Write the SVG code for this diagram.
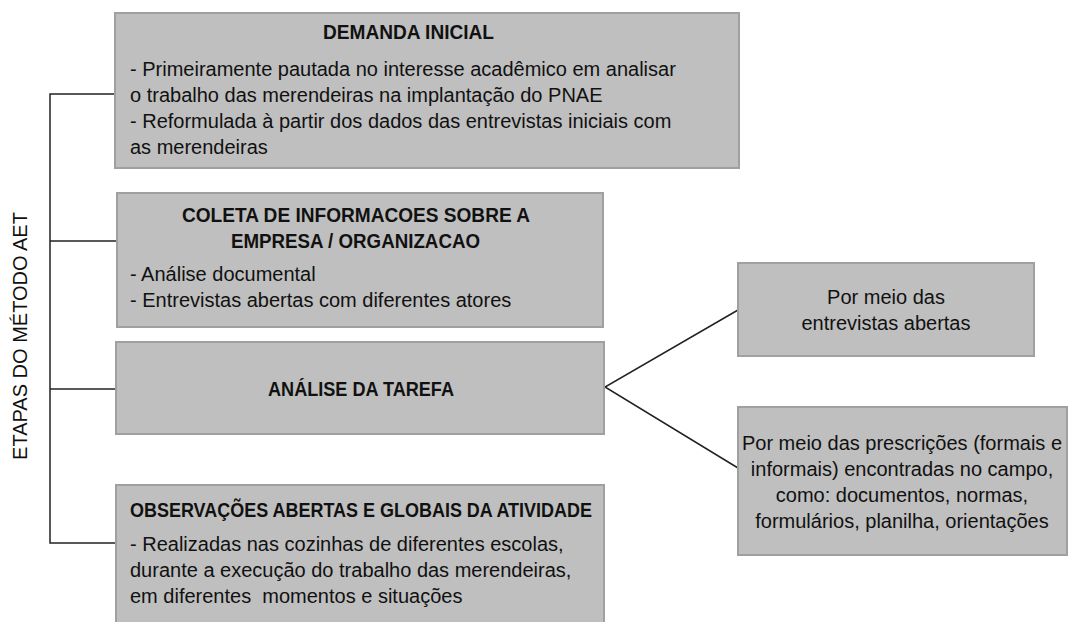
<svg xmlns="http://www.w3.org/2000/svg" width="1073" height="622" viewBox="0 0 1073 622">
<style>
.box{fill:#bfbfbf;stroke:#a0a0a0;stroke-width:2}
.t{font-family:"Liberation Sans",Arial,sans-serif;font-size:20px;fill:#111}
.h{font-family:"Liberation Sans",Arial,sans-serif;font-size:20px;font-weight:bold;fill:#111}
.c{text-anchor:middle}
.ln{fill:none;stroke:#222;stroke-width:1.5}
</style>
<rect width="1073" height="622" fill="#fff"/>
<g id="connectors">
<path class="ln" d="M115,94 H50 V543 H116"/>
<path class="ln" d="M50,241 H117"/>
<path class="ln" d="M50,389 H116"/>
<path class="ln" d="M738,310 L605,387 L738,468"/>
</g>
<text class="t c" transform="translate(27,336) rotate(-90)">ETAPAS DO MÉTODO AET</text>
<g id="demanda">
<rect class="box" x="115" y="13" width="624" height="155"/>
<text class="h" x="323" y="39" textLength="171" lengthAdjust="spacingAndGlyphs">DEMANDA INICIAL</text>
<text class="t" x="130" y="76">- Primeiramente pautada no interesse acadêmico em analisar</text>
<text class="t" x="130" y="102">o trabalho das merendeiras na implantação do PNAE</text>
<text class="t" x="130" y="128">- Reformulada à partir dos dados das entrevistas iniciais com</text>
<text class="t" x="130" y="154">as merendeiras</text>
</g>
<g id="coleta">
<rect class="box" x="117" y="193" width="486" height="134"/>
<text class="h" x="182" y="222" textLength="348" lengthAdjust="spacingAndGlyphs">COLETA DE INFORMACOES SOBRE A</text>
<text class="h" x="231" y="248" textLength="249" lengthAdjust="spacingAndGlyphs">EMPRESA / ORGANIZACAO</text>
<text class="t" x="130" y="281">- Análise documental</text>
<text class="t" x="130" y="307">- Entrevistas abertas com diferentes atores</text>
</g>
<g id="analise">
<rect class="box" x="116" y="342" width="488" height="92"/>
<text class="h" x="268" y="396" textLength="186" lengthAdjust="spacingAndGlyphs">ANÁLISE DA TAREFA</text>
</g>
<g id="observacoes">
<rect class="box" x="116" y="485" width="488" height="140"/>
<text class="h" x="130" y="517" textLength="462" lengthAdjust="spacingAndGlyphs">OBSERVAÇÕES ABERTAS E GLOBAIS DA ATIVIDADE</text>
<text class="t" x="130" y="551">- Realizadas nas cozinhas de diferentes escolas,</text>
<text class="t" x="130" y="577">durante a execução do trabalho das merendeiras,</text>
<text class="t" x="130" y="603" xml:space="preserve">em diferentes  momentos e situações</text>
</g>
<g id="entrevistas">
<rect class="box" x="738" y="263" width="296" height="93"/>
<text class="t c" x="886" y="304">Por meio das</text>
<text class="t c" x="886" y="330">entrevistas abertas</text>
</g>
<g id="prescricoes">
<rect class="box" x="738" y="407" width="329" height="148"/>
<text class="t c" x="902" y="450">Por meio das prescrições (formais e</text>
<text class="t c" x="902" y="476">informais) encontradas no campo,</text>
<text class="t c" x="902" y="502">como: documentos, normas,</text>
<text class="t c" x="902" y="528">formulários, planilha, orientações</text>
</g>
</svg>
